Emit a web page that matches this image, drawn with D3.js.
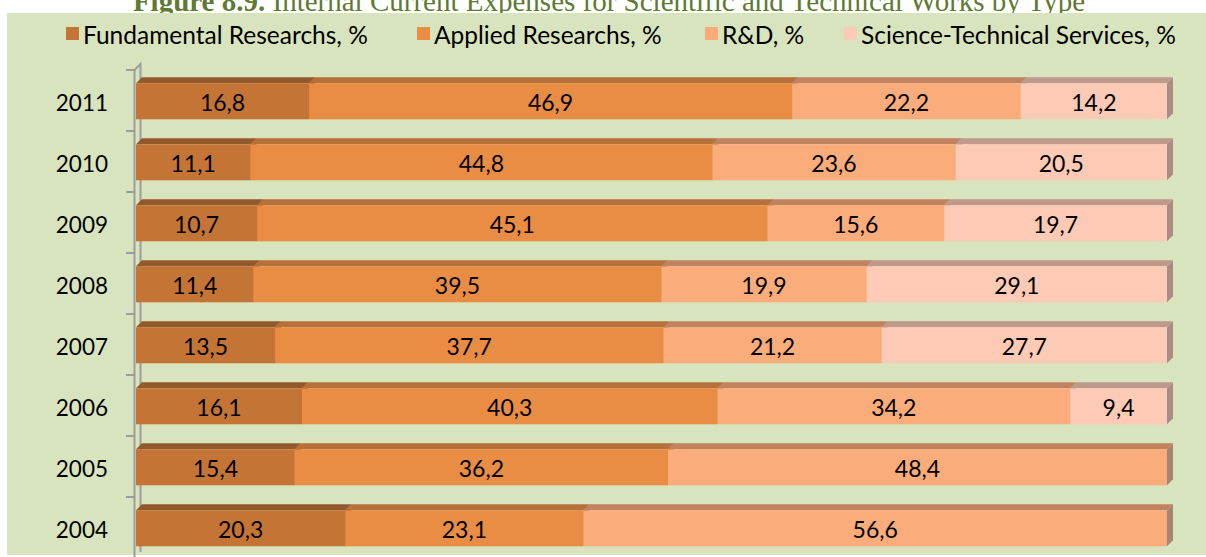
<!DOCTYPE html>
<html><head><meta charset="utf-8">
<script src="https://cdn.jsdelivr.net/npm/d3@7"></script>
<style>html,body{margin:0;padding:0;background:#fff;}svg{display:block;}</style>
</head><body>
<svg id="c" width="1206" height="557"></svg>
<script>
const years = ["2011","2010","2009","2008","2007","2006","2005","2004"];
const seriesNames = ["Fundamental Researchs, %","Applied Researchs, %","R&D, %","Science-Technical Services, %"];
const fundamental = [16.8,11.1,10.7,11.4,13.5,16.1,15.4,20.3];
const applied     = [46.9,44.8,45.1,39.5,37.7,40.3,36.2,23.1];
const rnd         = [22.2,23.6,15.6,19.9,21.2,34.2,48.4,56.6];
const services    = [14.2,20.5,19.7,29.1,27.7,9.4,0,0];
const frontColors = ["#C47535","#E98C44","#FAAC7A","#FCCAB5"];
const topColors   = ["#94592B","#B7703A","#C2825F","#BF998B"];
const sideColors  = ["#7E4A22","#9A5E30","#A68573","#AC8B80"];
const titleBold = "Figure 8.9.";
const titleRest = " Internal Current Expenses for Scientific and Technical Works by Type";

const svg = d3.select("#c");
const W = 1206, H = 557;
const series = [fundamental, applied, rnd, services];

// title (partly hidden behind panel)
svg.append("text").attr("x", 609).attr("y", 11).attr("text-anchor","middle")
  .attr("font-family","Liberation Serif, serif").attr("font-size", 29).attr("fill","#5F7A32")
  .call(t => { t.append("tspan").attr("font-weight","bold").text(titleBold); t.append("tspan").text(titleRest); });

// panel
svg.append("rect").attr("x",7).attr("y",13).attr("width",W-7).attr("height",542).attr("fill","#D8E4BD");

// legend
const legX = [66, 417, 705, 844];
const leg = svg.append("g").attr("font-family","Lato, sans-serif").attr("font-size",24.5).attr("fill","#000");
seriesNames.forEach((n,i)=>{
  leg.append("rect").attr("x",legX[i]).attr("y",27).attr("width",13).attr("height",13).attr("fill",frontColors[i]);
  leg.append("text").attr("x",legX[i]+17).attr("y",34).attr("dominant-baseline","central").text(n);
});

// scales (100% stacked)
const x = d3.scaleLinear().domain([0,100]).range([136,1167]);
const y = d3.scaleBand().domain(years).range([70,558]);
const dep = 6, frontOff = 13.3, frontH = 36;

// axis wall
const ax = svg.append("g").attr("stroke","#9C9C9C").attr("fill","none");
const yTop = y.range()[0], yBot = y.range()[1];
ax.append("path").attr("d", `M${x(0)-1.5},${yBot}V${yTop}L${x(0)-1.5+dep},${yTop-dep}V${yBot-dep}`).attr("stroke-width",2);
d3.range(years.length+1).forEach(i=>{
  const yy = yTop + i*y.step();
  ax.append("line").attr("x1",x(0)-10).attr("x2",x(0)-1.5).attr("y1",yy).attr("y2",yy).attr("stroke-width",2);
});

// year labels
svg.append("g").attr("font-family","Lato, sans-serif").attr("font-size",22.5).attr("text-anchor","end")
  .selectAll("text").data(years).join("text")
  .attr("x",108).attr("y",d=>y(d)+frontOff+frontH/2+1).attr("dominant-baseline","central").text(d=>d);

// bars
const bars = svg.append("g");
years.forEach((yr,r)=>{
  const total = d3.sum(series, s => s[r]);
  let cum = 0;
  const yf = y(yr)+frontOff;
  series.forEach((s,i)=>{
    const v = s[r];
    if(!v) return;
    const p = v/total*100;
    const x0 = x(cum), x1 = x(cum+p);
    cum += p;
    bars.append("path").attr("fill",sideColors[i])
      .attr("d",`M${x1},${yf}L${x1+dep},${yf-dep}V${yf+frontH-dep}L${x1},${yf+frontH}Z`);
    bars.append("path").attr("fill",topColors[i])
      .attr("d",`M${x0},${yf}L${x0+dep},${yf-dep}H${x1+dep}L${x1},${yf}Z`);
    bars.append("rect").attr("x",x0).attr("y",yf).attr("width",x1-x0).attr("height",frontH).attr("fill",frontColors[i]);
    bars.append("text").attr("x",(x0+x1)/2).attr("y",yf+frontH/2+1).attr("text-anchor","middle")
      .attr("dominant-baseline","central").attr("font-family","Lato, sans-serif").attr("font-size",23)
      .text(String(v).replace(".",","));
  });
});
</script>
</body></html>
